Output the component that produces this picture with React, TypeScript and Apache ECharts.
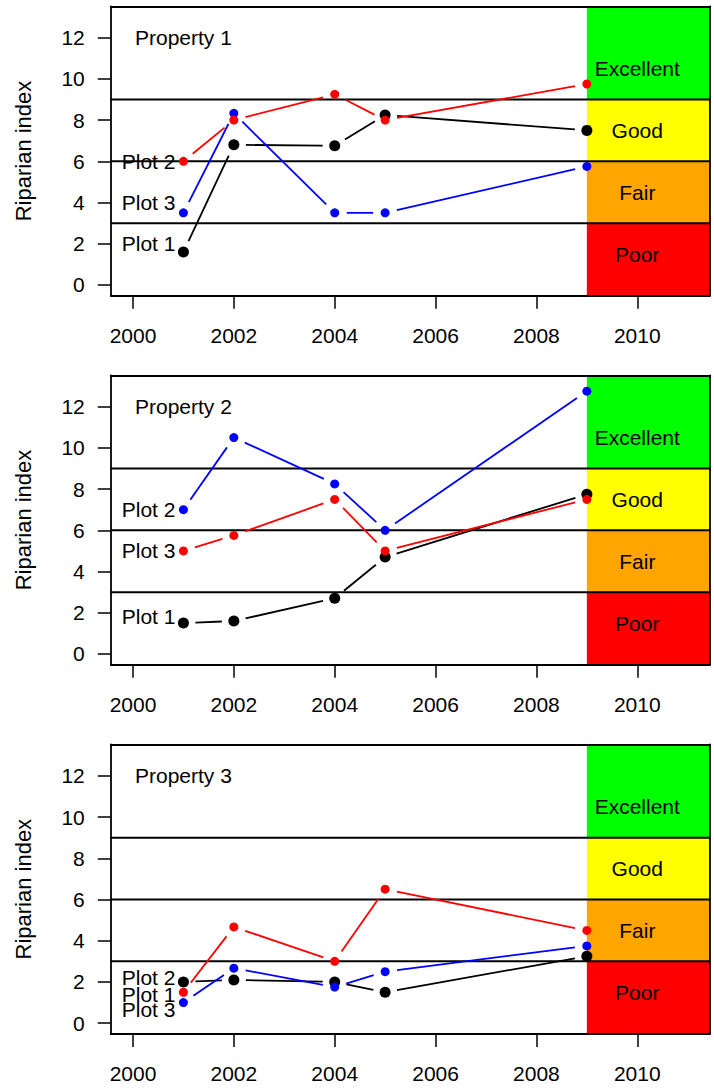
import React, { useEffect, useRef } from "react";
import * as echarts from "echarts";

// ---- data ----
const years = [2001, 2002, 2004, 2005, 2009];

const p1Black = [1.6, 6.8, 6.75, 8.25, 7.5];
const p1Blue = [3.5, 8.33, 3.5, 3.5, 5.75];
const p1Red = [6, 8, 9.25, 8, 9.75];

const p2Black = [1.5, 1.6, 2.7, 4.7, 7.75];
const p2Blue = [7, 10.5, 8.25, 6, 12.75];
const p2Red = [5, 5.75, 7.5, 5, 7.5];

const p3Black = [2, 2.1, 2, 1.5, 3.25];
const p3Blue = [1, 2.67, 1.75, 2.5, 3.75];
const p3Red = [1.5, 4.67, 3, 6.5, 4.5];

const propertyTitles = ["Property 1", "Property 2", "Property 3"];
const plotLabelTexts = [
  ["Plot 2", "Plot 3", "Plot 1"],
  ["Plot 2", "Plot 3", "Plot 1"],
  ["Plot 2", "Plot 1", "Plot 3"],
];
const plotLabelYs = [
  [6, 4, 2],
  [7, 5, 1.8],
  [2.2, 1.4, 0.65],
];

const bandNames = ["Excellent", "Good", "Fair", "Poor"];
const bandLabelYs = [10.5, 7.5, 4.5, 1.5];
const bandColors = ["#00FF00", "#FFFF00", "#FFA500", "#FF0000"];
const bandBreaks = [9, 6, 3];
const bandStartYear = 2009;
const bandLabelYear = 2010;

const xTicks = [2000, 2002, 2004, 2006, 2008, 2010];
const yTicks = [0, 2, 4, 6, 8, 10, 12];

const X_MIN = 1999.56;
const X_MAX = 2011.44;
const Y_MIN = -0.52;
const Y_MAX = 13.52;

const panels = [
  { black: p1Black, blue: p1Blue, red: p1Red },
  { black: p2Black, blue: p2Blue, red: p2Red },
  { black: p3Black, blue: p3Blue, red: p3Red },
];

const FONT = "'Liberation Sans', Arial, Helvetica, sans-serif";
const FS = 21;
const GAP = 12;

function segments(vals: number[]) {
  const out: number[][] = [];
  for (let k = 0; k < years.length - 1; k++) {
    out.push([years[k], vals[k], years[k + 1], vals[k + 1]]);
  }
  return out;
}

function segSeries(vals: number[], color: string, gi: number) {
  return {
    type: "custom",
    xAxisIndex: gi * 2,
    yAxisIndex: gi * 2,
    silent: true,
    encode: { x: [0, 2], y: [1, 3] },
    data: segments(vals),
    renderItem: (params: any, api: any) => {
      const a = api.coord([api.value(0), api.value(1)]);
      const b = api.coord([api.value(2), api.value(3)]);
      const dx = b[0] - a[0];
      const dy = b[1] - a[1];
      const len = Math.sqrt(dx * dx + dy * dy);
      if (len <= GAP * 2) return null;
      const ux = dx / len;
      const uy = dy / len;
      return {
        type: "line",
        shape: {
          x1: a[0] + ux * GAP,
          y1: a[1] + uy * GAP,
          x2: b[0] - ux * GAP,
          y2: b[1] - uy * GAP,
        },
        style: { stroke: color, lineWidth: 1.8 },
      };
    },
  };
}

function pointSeries(vals: number[], color: string, size: number, gi: number) {
  return {
    type: "scatter",
    xAxisIndex: gi * 2,
    yAxisIndex: gi * 2,
    silent: true,
    symbol: "circle",
    symbolSize: size,
    itemStyle: { color, opacity: 1 },
    data: years.map((y, k) => [y, vals[k]]),
  };
}

function textSeries(gi: number, data: any[], label: any) {
  return {
    type: "scatter",
    xAxisIndex: gi * 2,
    yAxisIndex: gi * 2,
    silent: true,
    symbolSize: 0,
    itemStyle: { opacity: 1, color: "#000" },
    data,
    label: {
      show: true,
      formatter: (d: any) => d.name,
      fontSize: FS,
      color: "#000000",
      opacity: 1,
      fontFamily: FONT,
      ...label,
    },
  };
}

export default function App() {
  const ref = useRef<HTMLDivElement>(null);

  useEffect(() => {
    document.body.style.margin = "0";
    const chart = echarts.init(ref.current!, null, { renderer: "svg" });

    const gridTops = [6.3, 375.3, 744.5];
    const grids = gridTops.map((t) => ({
      left: 110.8,
      top: t,
      width: 599.1,
      height: 289.4,
      outerBoundsMode: "none",
      containLabel: false,
    }));

    const xAxes: any[] = [];
    const yAxes: any[] = [];
    const series: any[] = [];

    panels.forEach((p, gi) => {
      xAxes.push({
        type: "value",
        gridIndex: gi,
        min: X_MIN,
        max: X_MAX,
        position: "bottom",
        z: 10,
        axisLine: { show: true, onZero: false, lineStyle: { color: "#000", width: 1.8 } },
        axisTick: {
          show: true,
          length: 13,
          customValues: xTicks,
          lineStyle: { color: "#000", width: 1.5 },
        },
        axisLabel: {
          show: true,
          customValues: xTicks,
          margin: 29,
          fontSize: FS,
          color: "#000",
          fontFamily: FONT,
          formatter: (v: number) => String(v),
        },
        splitLine: { show: false },
      });
      xAxes.push({
        type: "value",
        gridIndex: gi,
        min: X_MIN,
        max: X_MAX,
        position: "top",
        z: 10,
        axisLine: { show: true, onZero: false, lineStyle: { color: "#000", width: 1.8 } },
        axisTick: { show: false },
        axisLabel: { show: false },
        splitLine: { show: false },
      });
      yAxes.push({
        type: "value",
        gridIndex: gi,
        min: Y_MIN,
        max: Y_MAX,
        position: "left",
        z: 10,
        name: "Riparian index",
        nameLocation: "middle",
        nameRotate: 90,
        nameGap: 76,
        nameTextStyle: { fontSize: 22, color: "#000", fontFamily: FONT },
        axisLine: { show: true, onZero: false, lineStyle: { color: "#000", width: 1.8 } },
        axisTick: {
          show: true,
          length: 13,
          customValues: yTicks,
          lineStyle: { color: "#000", width: 1.5 },
        },
        axisLabel: {
          show: true,
          customValues: yTicks,
          margin: 26,
          fontSize: FS,
          color: "#000",
          fontFamily: FONT,
          formatter: (v: number) => String(v),
        },
        splitLine: { show: false },
      });
      yAxes.push({
        type: "value",
        gridIndex: gi,
        min: Y_MIN,
        max: Y_MAX,
        position: "right",
        z: 10,
        axisLine: { show: true, onZero: false, lineStyle: { color: "#000", width: 1.8 } },
        axisTick: { show: false },
        axisLabel: { show: false },
        splitLine: { show: false },
      });

      // colored condition bands
      const bandEdges = [Y_MAX, ...bandBreaks, Y_MIN];
      series.push({
        type: "custom",
        xAxisIndex: gi * 2,
        yAxisIndex: gi * 2,
        silent: true,
        data: bandNames.map((_, k) => [bandStartYear, bandEdges[k + 1], X_MAX, bandEdges[k], k]),
        renderItem: (params: any, api: any) => {
          const a = api.coord([api.value(0), api.value(3)]);
          const b = api.coord([api.value(2), api.value(1)]);
          return {
            type: "rect",
            shape: { x: a[0], y: a[1], width: b[0] - a[0], height: b[1] - a[1] },
            style: { fill: bandColors[api.value(4)] },
          };
        },
      });
      // horizontal class break lines
      series.push({
        type: "custom",
        xAxisIndex: gi * 2,
        yAxisIndex: gi * 2,
        silent: true,
        data: bandBreaks.map((b) => [X_MIN, b, X_MAX]),
        renderItem: (params: any, api: any) => {
          const a = api.coord([api.value(0), api.value(1)]);
          const b = api.coord([api.value(2), api.value(1)]);
          return {
            type: "line",
            shape: { x1: a[0], y1: a[1], x2: b[0], y2: b[1] },
            style: { stroke: "#000", lineWidth: 2 },
          };
        },
      });
      // band labels
      series.push(
        textSeries(
          gi,
          bandNames.map((n, k) => ({ value: [bandLabelYear, bandLabelYs[k]], name: n })),
          { position: "inside" }
        )
      );
      // property title
      series.push(
        textSeries(gi, [{ value: [2000, 12], name: propertyTitles[gi] }], {
          position: "right",
          distance: 2,
        })
      );
      // plot labels
      series.push(
        textSeries(
          gi,
          plotLabelTexts[gi].map((t, k) => ({ value: [years[0], plotLabelYs[gi][k]], name: t })),
          { position: "left", distance: 8 }
        )
      );
      // data: black, blue, red
      series.push(segSeries(p.black, "#000000", gi));
      series.push(pointSeries(p.black, "#000000", 11, gi));
      series.push(segSeries(p.blue, "#0000FF", gi));
      series.push(pointSeries(p.blue, "#0000FF", 9, gi));
      series.push(segSeries(p.red, "#FF0000", gi));
      series.push(pointSeries(p.red, "#FF0000", 9, gi));
    });

    chart.setOption({
      animation: false,
      backgroundColor: "#ffffff",
      grid: grids,
      xAxis: xAxes,
      yAxis: yAxes,
      series,
    });

    return () => chart.dispose();
  }, []);

  return <div ref={ref} style={{ width: 714, height: 1091 }} />;
}
